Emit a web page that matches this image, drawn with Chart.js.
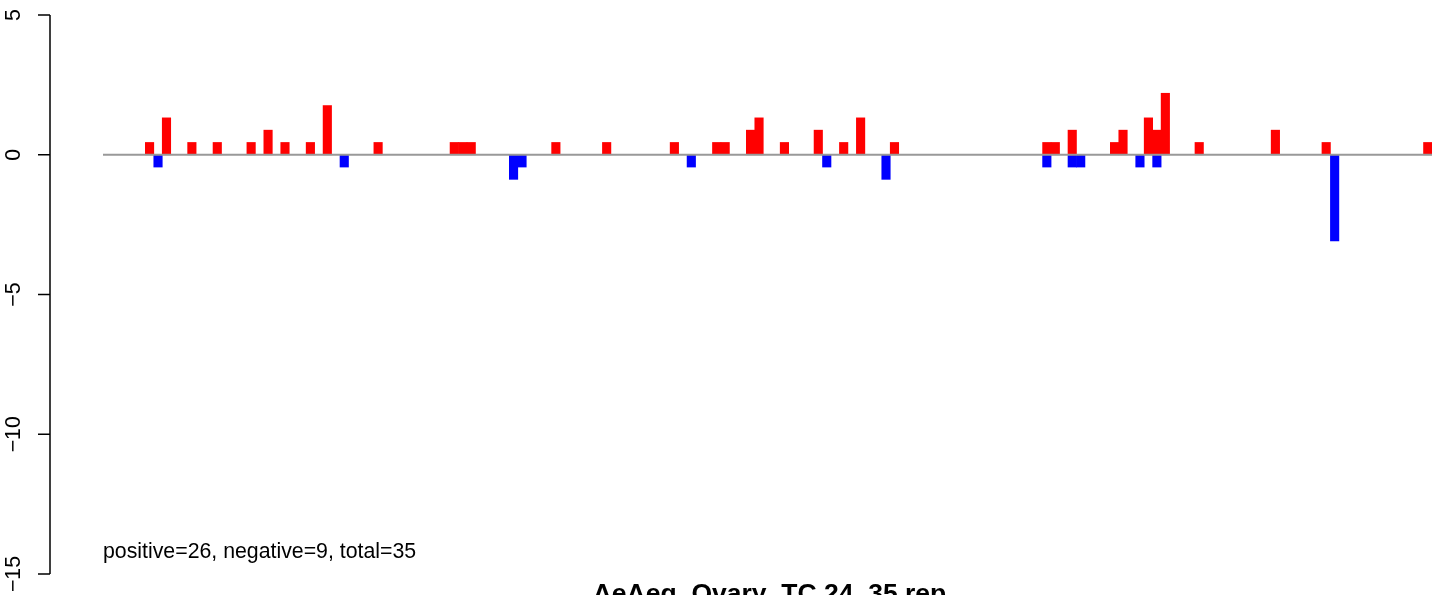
<!DOCTYPE html>
<html>
<head>
<meta charset="utf-8">
<script src="https://cdn.jsdelivr.net/npm/chart.js@4/dist/chart.umd.min.js"></script>
<style>
  html, body { margin: 0; padding: 0; background: #fff; }
  #wrap { width: 1455px; height: 595px; }
</style>
</head>
<body>
<div id="wrap"><canvas id="myChart" width="1455" height="595"></canvas></div>
<script>
'use strict';
// number of positions on the x axis
const slotCount = 157;
// positions and heights of the red (positive) bars
const posIndex = [5, 7, 10, 13, 17, 19, 21, 24, 26, 32, 41, 42, 43, 53, 59, 67, 72, 73, 76, 77,
  80, 84, 87, 89, 93, 111, 112, 114, 119, 120, 123, 124, 125, 129, 138, 144, 156];
const posValues = [0.44, 1.32, 0.44, 0.44, 0.44, 0.88, 0.44, 0.44, 1.76, 0.44, 0.44, 0.44, 0.44, 0.44, 0.44, 0.44, 0.44, 0.44, 0.88, 1.32,
  0.44, 0.88, 0.44, 1.32, 0.44, 0.44, 0.44, 0.88, 0.44, 0.88, 1.32, 0.88, 2.2, 0.44, 0.88, 0.44, 0.44];
// positions and heights of the blue (negative) bars
const negIndex = [6, 28, 48, 49, 69, 85, 92, 111, 114, 115, 122, 124, 145];
const negValues = [-0.44, -0.44, -0.88, -0.44, -0.44, -0.44, -0.88, -0.44, -0.44, -0.44, -0.44, -0.44, -3.08];
// y axis ticks
const yTicks = [-15, -10, -5, 0, 5];
const footText = 'positive=26, negative=9, total=35';
const titleText = 'AeAeg_Ovary_TC.24_35.rep';

// build full series from the sparse lists
const labels = [];
const posData = [];
const negData = [];
for (let i = 0; i < slotCount; i++) {
  labels.push(i + 1);
  posData.push(null);
  negData.push(null);
}
posIndex.forEach((p, i) => { posData[p] = posValues[i]; });
negIndex.forEach((p, i) => { negData[p] = negValues[i]; });

// R style axis, zero line and texts
const rStyle = {
  id: 'rStyle',
  afterDatasetsDraw(chart) {
    const ctx = chart.ctx;
    const y = chart.scales.y;
    const area = chart.chartArea;
    ctx.save();
    // zero line
    ctx.strokeStyle = '#999999';
    ctx.lineWidth = 2;
    ctx.beginPath();
    ctx.moveTo(area.left, y.getPixelForValue(0));
    ctx.lineTo(area.right, y.getPixelForValue(0));
    ctx.stroke();

    // y axis
    const axisX = 50;
    ctx.strokeStyle = '#000';
    ctx.lineWidth = 1.5;
    ctx.beginPath();
    ctx.moveTo(axisX, y.getPixelForValue(yTicks[yTicks.length - 1]));
    ctx.lineTo(axisX, y.getPixelForValue(yTicks[0]));
    yTicks.forEach(t => {
      const py = y.getPixelForValue(t);
      ctx.moveTo(axisX, py);
      ctx.lineTo(axisX - 12, py);
    });
    ctx.stroke();

    ctx.fillStyle = '#000';
    ctx.font = '21.3px "Liberation Sans", Arial, sans-serif';
    ctx.textAlign = 'center';
    ctx.textBaseline = 'alphabetic';
    yTicks.forEach(t => {
      const py = y.getPixelForValue(t);
      ctx.save();
      ctx.translate(20, py);
      ctx.rotate(-Math.PI / 2);
      ctx.fillText(String(t).replace('-', '\u2212'), 0, 0);
      ctx.restore();
    });

    // footer text
    ctx.textAlign = 'left';
    ctx.fillText(footText, area.left, 558);

    // title
    ctx.font = 'bold 26.5px "Liberation Sans", Arial, sans-serif';
    ctx.textAlign = 'center';
    ctx.fillText(titleText, (area.left + area.right) / 2 + 2, 602);
    ctx.restore();
  }
};

const ctx = document.getElementById('myChart').getContext('2d');
const chart = new Chart(ctx, {
  type: 'bar',
  data: {
    labels: labels,
    datasets: [{
      label: 'positive',
      data: posData,
      backgroundColor: '#FF0000',
      borderWidth: 0,
      grouped: false,
      barPercentage: 1,
      categoryPercentage: 1
    }, {
      label: 'negative',
      data: negData,
      backgroundColor: '#0000FF',
      borderWidth: 0,
      grouped: false,
      barPercentage: 1,
      categoryPercentage: 1
    }]
  },
  options: {
    responsive: false,
    animation: false,
    layout: {
      padding: { left: 103, right: 23, top: 15, bottom: 21 }
    },
    plugins: {
      legend: { display: false },
      tooltip: { enabled: false },
      title: { display: false }
    },
    scales: {
      x: { display: false },
      y: { display: false, min: -15, max: 5 }
    }
  },
  plugins: [rStyle]
});
</script>
</body>
</html>
